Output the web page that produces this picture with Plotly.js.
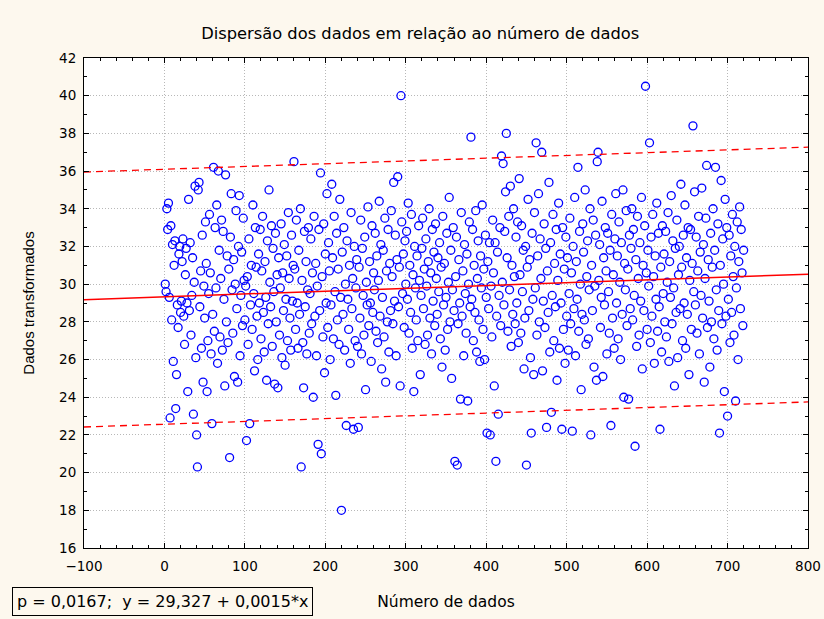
<!DOCTYPE html>
<html>
<head>
<meta charset="utf-8">
<script src="https://cdn.plot.ly/plotly-3.0.1.min.js"></script>
<style>
  html, body { margin: 0; padding: 0; background: #fdf8ee; }
  #chart { width: 824px; height: 619px; }
</style>
</head>
<body>
<div id="chart"></div>
<script>
// Dados transformados (one value per data number, starting at 1)
const dadosTransformados = [
  30.0, 29.6, 34.0, 32.9, 34.3, 29.3, 22.9, 33.1, 28.1, 32.1, 25.9, 31.0, 32.3, 23.4, 25.2, 28.9, 27.7, 31.6, 32.0, 28.5,
  29.1, 31.2, 32.4, 28.3, 26.8, 30.5, 31.9, 29.0, 24.3, 34.5, 28.6, 32.2, 27.3, 29.4, 31.4, 23.1, 30.1, 35.2, 26.1, 22.0,
  20.3, 35.0, 35.4, 28.8, 30.7, 26.6, 32.6, 24.8, 29.9, 28.2, 33.3, 31.1, 24.3, 27.0, 29.5, 33.7, 30.6, 26.3, 22.6, 28.4,
  36.2, 27.5, 33.0, 29.8, 34.2, 25.8, 36.0, 31.8, 27.2, 30.3, 33.4, 26.5, 32.8, 29.2, 24.6, 35.8, 28.0, 31.5, 26.9, 30.8,
  20.8, 32.5, 34.8, 29.7, 27.4, 31.3, 25.1, 30.0, 33.9, 28.7, 24.8, 32.0, 34.7, 26.2, 29.4, 31.7, 27.8, 33.5, 30.2, 28.1,
  29.9, 21.7, 30.4, 26.8, 32.4, 22.6, 28.9, 31.0, 27.6, 34.2, 29.5, 25.4, 33.0, 30.9, 28.3, 26.0, 31.6, 29.0, 32.9, 27.1,
  30.7, 33.6, 28.5, 26.4, 31.2, 29.3, 24.9, 32.3, 27.9, 35.0, 30.1, 28.8, 33.1, 26.7, 31.9, 29.6, 24.7, 32.7, 28.0, 30.5,
  24.5, 31.4, 27.3, 29.8, 33.2, 26.1, 30.6, 28.6, 32.1, 25.7, 29.2, 31.5, 27.0, 33.8, 30.3, 28.2, 26.5, 32.6, 29.1, 31.0,
  36.5, 30.8, 27.6, 33.4, 29.0, 26.6, 31.8, 28.4, 34.0, 20.3, 30.2, 26.9, 24.5, 32.8, 28.8, 31.2, 26.3, 29.7, 33.0, 27.4,
  29.5, 32.4, 27.9, 30.6, 24.0, 33.6, 28.3, 31.1, 26.2, 29.9, 21.5, 32.9, 28.6, 35.9, 21.0, 30.4, 27.2, 33.2, 25.3, 31.6,
  29.0, 34.8, 27.7, 32.2, 30.7, 26.0, 28.9, 35.3, 31.4, 27.1, 33.6, 29.6, 24.1, 32.7, 28.1, 30.8, 26.8, 34.5, 29.3, 18.0,
  31.7, 28.4, 33.0, 26.5, 30.0, 22.5, 32.3, 29.2, 27.6, 31.0, 25.8, 33.8, 28.7, 30.3, 22.3, 32.0, 27.0, 29.8, 31.3, 26.7,
  22.4, 30.9, 28.2, 33.4, 26.3, 31.9, 29.4, 27.3, 32.5, 24.4, 30.1, 28.9, 34.1, 27.8, 31.2, 29.0, 25.9, 33.1, 28.5, 30.6,
  29.7, 32.7, 27.5, 31.5, 26.9, 30.2, 34.4, 28.3, 32.1, 25.5, 29.3, 31.8, 27.2, 33.5, 24.8, 30.7, 28.0, 32.9, 26.4, 31.1,
  28.6, 33.9, 30.4, 27.9, 35.4, 29.1, 32.6, 26.2, 31.3, 35.7, 28.8, 30.9, 24.6, 40.0, 33.3, 29.5, 31.6, 27.7, 32.3, 30.0,
  32.8, 29.2, 34.3, 27.4, 31.0, 28.5, 33.7, 26.6, 30.5, 24.3, 32.0, 29.8, 28.1, 31.5, 27.0, 33.1, 30.2, 25.2, 29.4, 31.9,
  33.5, 28.7, 30.8, 26.8, 32.4, 29.9, 27.3, 31.2, 34.0, 28.2, 30.6, 26.3, 32.9, 29.1, 31.7, 27.8, 33.2, 30.3, 28.4, 31.4,
  29.6, 32.2, 27.1, 30.9, 25.6, 33.6, 28.9, 31.1, 26.5, 29.3, 32.7, 27.6, 30.1, 34.6, 28.0, 31.8, 25.0, 29.7, 33.0, 28.6,
  20.6, 30.4, 32.5, 20.4, 27.9, 31.3, 29.0, 23.9, 33.8, 28.3, 30.7, 26.2, 32.1, 29.5, 27.4, 31.6, 23.8, 30.0, 33.3, 28.8,
  37.8, 29.2, 32.9, 27.0, 31.0, 28.5, 33.9, 26.4, 30.3, 32.3, 28.1, 25.9, 31.5, 29.8, 34.2, 27.6, 30.8, 26.0, 32.6, 29.3,
  22.1, 31.2, 28.7, 32.2, 22.0, 29.9, 27.2, 33.4, 30.6, 24.6, 32.2, 20.6, 28.3, 31.7, 23.1, 29.4, 33.0, 27.8, 36.8, 30.1,
  36.4, 28.9, 32.8, 34.9, 38.0, 31.4, 27.5, 33.6, 29.7, 35.2, 26.7, 31.0, 28.4, 34.0, 30.4, 27.9, 32.5, 29.0, 33.3, 26.9,
  35.6, 30.5, 27.4, 33.1, 29.6, 31.8, 25.5, 28.2, 32.0, 20.4, 30.9, 34.5, 28.6, 31.3, 26.1, 22.1, 32.7, 29.2, 25.2, 33.8,
  29.8, 37.5, 27.3, 31.5, 34.8, 28.0, 32.4, 30.3, 37.0, 25.4, 29.1, 33.2, 27.7, 31.9, 22.4, 30.7, 28.5, 35.4, 26.4, 32.2,
  23.2, 29.4, 33.7, 27.0, 31.1, 28.8, 32.9, 24.9, 30.2, 34.3, 26.6, 31.6, 29.0, 22.3, 33.0, 27.6, 30.8, 25.8, 32.5, 28.3,
  31.4, 26.5, 29.5, 33.5, 27.9, 30.6, 22.2, 32.0, 28.7, 34.6, 26.2, 31.2, 29.2, 36.2, 27.5, 32.8, 30.0, 24.4, 28.4, 33.2,
  31.7, 28.1, 35.0, 26.8, 30.4, 32.3, 27.1, 29.7, 34.0, 22.0, 31.0, 28.6, 33.4, 25.6, 29.9, 32.6, 24.9, 36.5, 37.0, 30.2,
  32.1, 27.7, 29.3, 34.4, 25.1, 31.4, 28.9, 33.0, 30.7, 26.3, 32.7, 29.6, 27.4, 31.8, 22.5, 33.7, 28.2, 30.5, 26.6, 32.4,
  34.8, 29.0, 31.5, 27.1, 33.3, 30.1, 26.0, 32.2, 28.4, 35.0, 24.0, 31.1, 29.7, 33.9, 27.8, 30.8, 23.9, 32.6, 28.7, 31.9,
  34.0, 28.1, 32.9, 29.4, 21.4, 31.3, 26.7, 33.6, 30.3, 27.3, 32.2, 29.1, 34.6, 25.5, 31.0, 28.6, 33.1, 40.5, 30.6, 27.6,
  31.8, 29.9, 37.5, 26.9, 32.5, 28.3, 33.7, 30.4, 25.8, 31.5, 29.2, 34.3, 27.5, 32.7, 28.8, 22.3, 30.9, 26.4, 33.1, 29.5,
  31.6, 28.0, 32.8, 27.2, 30.1, 33.8, 25.9, 31.2, 29.3, 34.7, 27.9, 32.3, 29.8, 24.6, 31.9, 28.5, 33.4, 26.1, 30.5, 32.0,
  28.7, 35.3, 30.9, 27.0, 32.6, 29.0, 34.2, 26.6, 31.4, 28.4, 33.0, 25.2, 30.2, 32.9, 27.6, 31.1, 38.4, 29.6, 34.9, 28.9,
  32.5, 27.4, 30.7, 33.6, 26.3, 31.7, 29.4, 35.1, 28.2, 32.1, 24.8, 30.3, 33.5, 36.3, 27.7, 31.3, 29.1, 25.6, 32.7, 28.0,
  30.9, 34.0, 27.1, 31.8, 36.2, 29.7, 26.5, 33.2, 28.6, 22.1, 31.0, 35.5, 27.9, 32.4, 30.0, 24.3, 34.5, 28.3, 33.0, 23.0,
  29.2, 32.6, 26.9, 31.5, 28.5, 33.7, 30.4, 27.3, 32.0, 23.8, 29.8, 33.3, 26.0, 31.2, 34.1, 28.7, 32.9, 30.6, 27.8, 31.8
];

// Regression (from the caption) and prediction band end values
const regIntercept = 29.327;
const regSlope = 0.0015;
const lineX = [-100, 800];
const bandUpper = [35.95, 37.27];
const bandLower = [22.42, 23.75];

const regY = lineX.map(x => regIntercept + regSlope * x);

const FONT_H = 'DejaVu Sans, Liberation Sans, sans-serif';
const FONT_V = 'Liberation Sans, Arial, sans-serif';

const traces = [
  {
    type: 'scatter', mode: 'markers',
    x0: 1, dx: 1, y: dadosTransformados,
    marker: { symbol: 'circle-open', size: 8, color: '#0000ff', line: { color: '#0000ff', width: 1.3 } },
    hoverinfo: 'skip', showlegend: false
  },
  {
    type: 'scatter', mode: 'lines', x: lineX, y: regY,
    line: { color: '#ff0000', width: 1.5 }, showlegend: false
  },
  {
    type: 'scatter', mode: 'lines', x: lineX, y: bandUpper,
    line: { color: '#ff0000', width: 1.3, dash: '7px,5px' }, showlegend: false
  },
  {
    type: 'scatter', mode: 'lines', x: lineX, y: bandLower,
    line: { color: '#ff0000', width: 1.3, dash: '7px,5px' }, showlegend: false
  }
];

const axisCommon = {
  showline: true, linecolor: '#000', linewidth: 1, mirror: 'allticks',
  ticks: 'inside', ticklen: 5, tickcolor: '#000', tickwidth: 1,
  showgrid: true, gridcolor: '#b8b8b8', gridwidth: 1, griddash: '1px,2px',
  zeroline: false,
  tickfont: { family: FONT_H, size: 13.5, color: '#000' }
};

const layout = {
  width: 824, height: 619,
  paper_bgcolor: '#fdf8ee', plot_bgcolor: '#ffffff',
  margin: { l: 84, r: 16, t: 58, b: 71 },
  title: {
    text: 'Dispersão dos dados em relação ao número de dados',
    font: { family: FONT_H, size: 16.3, color: '#000' },
    x: 0.51, xanchor: 'center', y: 0.947, yanchor: 'middle'
  },
  xaxis: Object.assign({}, axisCommon, {
    range: [-100, 800], dtick: 100, tick0: -100,
    ticklabelstandoff: 6,
    minor: { dtick: 20, ticks: 'inside', ticklen: 3, tickcolor: '#000', showgrid: false },
    title: { text: 'Número de dados', font: { family: FONT_H, size: 15.5, color: '#000' }, standoff: 22 }
  }),
  yaxis: Object.assign({}, axisCommon, {
    range: [16, 42], dtick: 2, tick0: 16,
    ticklabelstandoff: 4,
    minor: { dtick: 1, ticks: 'inside', ticklen: 3, tickcolor: '#000', showgrid: false },
    title: { text: 'Dados transformados', font: { family: FONT_V, size: 15, color: '#000' }, standoff: 20 }
  }),
  annotations: [
    {
      xref: 'paper', yref: 'paper', x: -0.1, y: -0.08, xanchor: 'left', yanchor: 'top',
      text: 'p = 0,0167;  y = 29,327 + 0,0015*x', showarrow: false,
      font: { family: FONT_H, size: 16, color: '#000' },
      bordercolor: '#000', borderwidth: 1, borderpad: 4, bgcolor: 'rgba(0,0,0,0)'
    }
  ]
};

Plotly.newPlot('chart', traces, layout, { staticPlot: true, displayModeBar: false });
</script>
</body>
</html>
